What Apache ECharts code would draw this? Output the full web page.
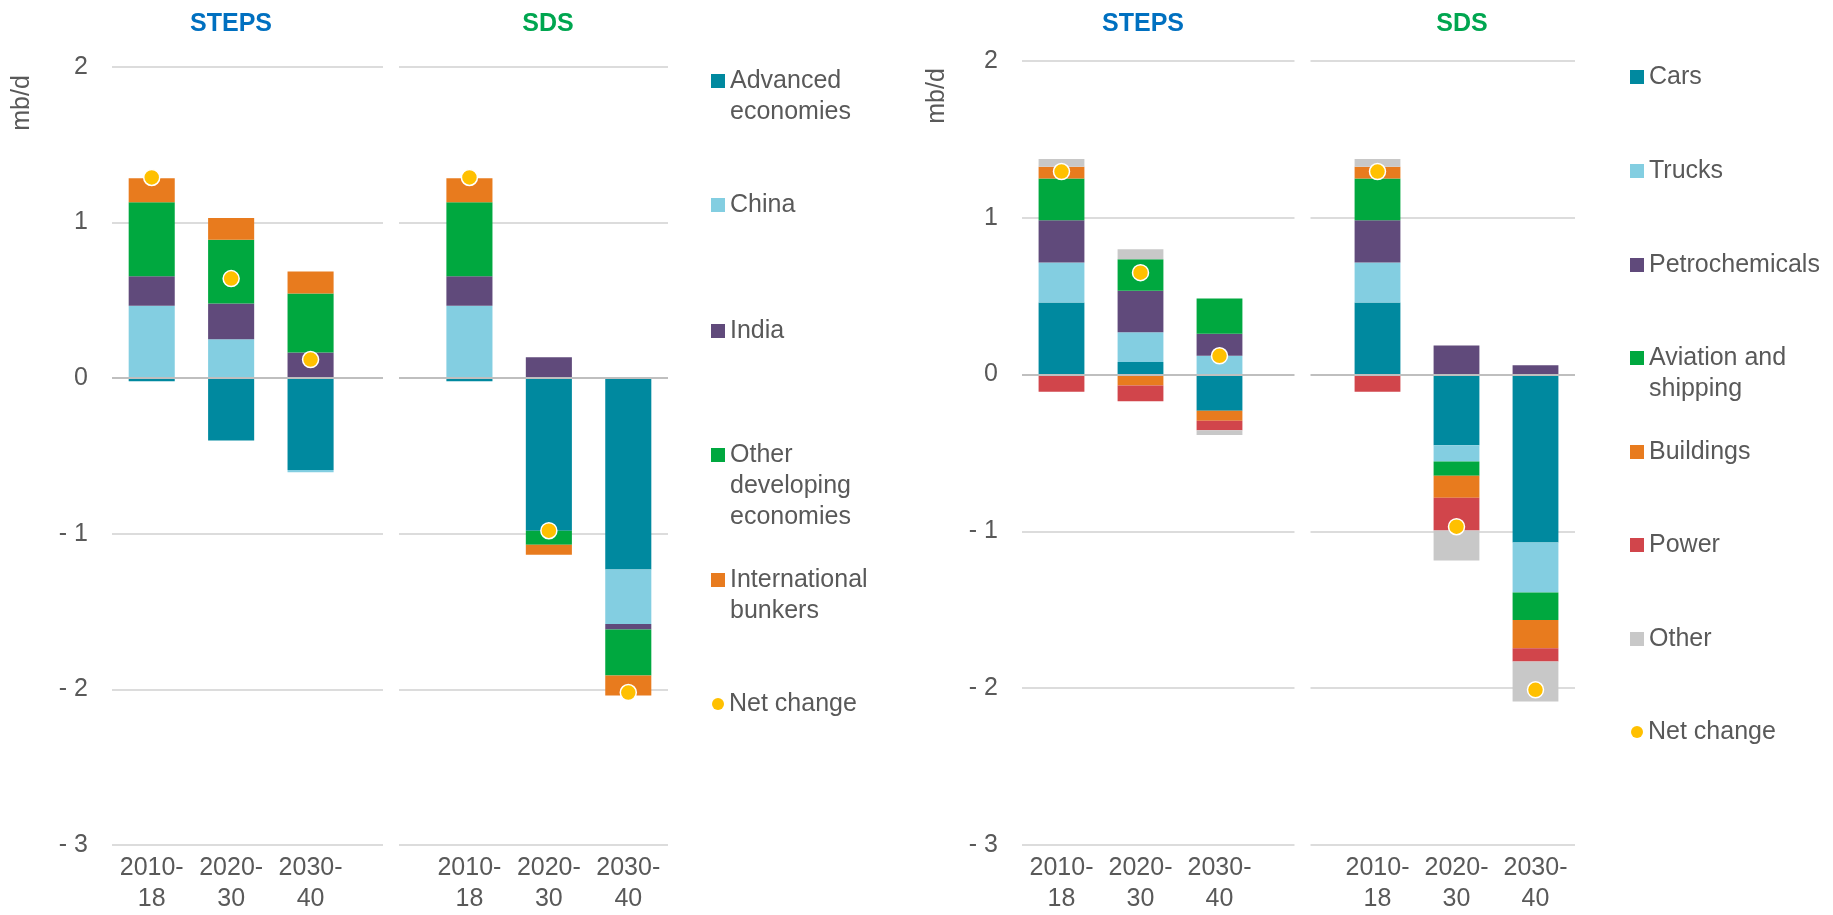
<!DOCTYPE html>
<html>
<head>
<meta charset="utf-8">
<title>Change in oil demand</title>
<script src="https://cdn.jsdelivr.net/npm/echarts@6/dist/echarts.min.js"></script>
<style>
  html, body { margin: 0; padding: 0; background: #fff; }
  #chart { width: 1833px; height: 915px; }
</style>
</head>
<body>
<div id="chart"></div>
<script>
// categories: STEPS periods, a blank slot, then SDS periods
const periods = ['2010-18', '2020-30', '2030-40', '', '2010-18', '2020-30', '2030-40']
const yTicks = { min: -3, max: 2, step: 1 }

// left panel: by region (mb/d)
const advanced = [-0.02, -0.40, -0.59, null, -0.02, -0.98, -1.23]
const china = [0.465, 0.25, -0.015, null, 0.465, 0, -0.35]
const india = [0.19, 0.23, 0.165, null, 0.19, 0.135, -0.035]
const otherDeveloping = [0.475, 0.41, 0.38, null, 0.475, -0.09, -0.295]
const bunkers = [0.155, 0.14, 0.14, null, 0.155, -0.065, -0.13]
const netRegion = [1.29, 0.64, 0.12, null, 1.29, -0.98, -2.02]

// right panel: by sector (mb/d)
const cars = [0.46, 0.08, -0.23, null, 0.46, -0.45, -1.07]
const trucks = [0.255, 0.19, 0.12, null, 0.255, -0.105, -0.32]
const petrochemicals = [0.27, 0.265, 0.14, null, 0.27, 0.185, 0.06]
const aviation = [0.265, 0.20, 0.225, null, 0.265, -0.09, -0.175]
const buildings = [0.075, -0.07, -0.065, null, 0.075, -0.14, -0.18]
const power = [-0.11, -0.10, -0.06, null, -0.11, -0.21, -0.085]
const otherSector = [0.05, 0.065, -0.03, null, 0.05, -0.19, -0.255]
const netSector = [1.295, 0.65, 0.12, null, 1.295, -0.97, -2.01]

const FONT = '"Liberation Sans", Arial, sans-serif'
const TEXT = '#595959'
const C = {
  teal: '#00899F',
  sky: '#83CEE1',
  purple: '#604A7B',
  green: '#00A83F',
  orange: '#E87B1E',
  red: '#D1454B',
  grey: '#C8C8C8',
  yellow: '#FFC000'
}

const grids = [
  { left: 112, top: 67, width: 556, height: 781 },
  { left: 1022, top: 61, width: 553, height: 789 }
]

function xAxis (idx) {
  return {
    type: 'category',
    gridIndex: idx,
    data: periods,
    axisLine: { show: false },
    axisTick: { show: false },
    axisLabel: {
      interval: 0,
      margin: 8,
      fontSize: 25,
      lineHeight: 31,
      fontFamily: FONT,
      color: TEXT,
      formatter: v => v.replace('-', '-\n')
    }
  }
}

function yAxis (idx) {
  return {
    type: 'value',
    gridIndex: idx,
    min: yTicks.min,
    max: yTicks.max,
    interval: yTicks.step,
    axisLine: { show: false },
    axisTick: { show: false },
    splitLine: { lineStyle: { color: '#DCDCDC', width: 2 } },
    axisLabel: {
      margin: 24,
      fontSize: 25,
      fontFamily: FONT,
      color: TEXT,
      formatter: v => (v < 0 ? '- ' + Math.abs(v) : String(v))
    }
  }
}

function bar (name, data, color, idx) {
  return {
    name,
    type: 'bar',
    stack: 'panel' + idx,
    xAxisIndex: idx,
    yAxisIndex: idx,
    data,
    barCategoryGap: '42%',
    itemStyle: { color },
    emphasis: { disabled: true }
  }
}

function net (data, idx) {
  return {
    name: 'Net change',
    type: 'scatter',
    xAxisIndex: idx,
    yAxisIndex: idx,
    data,
    z: 5,
    symbolSize: 16,
    itemStyle: { color: C.yellow, borderColor: '#fff', borderWidth: 1.5, opacity: 1 },
    emphasis: { disabled: true },
    markLine: {
      silent: true,
      symbol: 'none',
      label: { show: false },
      lineStyle: { color: '#BFBFBF', width: 2, type: 'solid' },
      data: [{ yAxis: 0 }]
    }
  }
}

// one legend per entry so each marker sits on the first line of its label:
// blank lines above the label push its first line onto the marker centre
const LH = 31
function legendItem (name, label, left, centerY, dot) {
  const lines = label.split('\n').length
  return {
    left,
    top: centerY - (2 * lines - 1) * LH / 2,
    orient: 'vertical',
    padding: 0,
    itemGap: 0,
    itemWidth: dot ? 12 : 14,
    itemHeight: dot ? 12 : 14,
    selectedMode: false,
    data: [{ name, icon: dot ? 'circle' : 'rect', itemStyle: { borderWidth: 0 } }],
    formatter: () => '\n'.repeat(lines - 1) + label,
    textStyle: {
      fontSize: 25,
      lineHeight: LH,
      fontFamily: FONT,
      color: TEXT
    }
  }
}

function panelTitle (text, x, color) {
  return {
    type: 'text',
    x,
    y: 24,
    style: { text, fill: color, font: 'bold 25px ' + FONT, align: 'center', verticalAlign: 'middle' }
  }
}

function unitName (x, y) {
  return {
    type: 'text',
    x,
    y,
    rotation: Math.PI / 2,
    style: { text: 'mb/d', fill: TEXT, font: '25px ' + FONT, align: 'center', verticalAlign: 'middle' }
  }
}

// white strip that breaks the gridlines between the STEPS and SDS halves
function gapStrip (x, top, bottom) {
  return {
    type: 'rect',
    z: 50,
    silent: true,
    shape: { x, y: top, width: 16, height: bottom - top },
    style: { fill: '#fff' }
  }
}

const option = {
  animation: false,
  backgroundColor: '#fff',
  grid: grids,
  xAxis: [xAxis(0), xAxis(1)],
  yAxis: [yAxis(0), yAxis(1)],
  legend: [
    legendItem('Advanced economies', 'Advanced\neconomies', 711, 81),
    legendItem('China', 'China', 711, 205),
    legendItem('India', 'India', 711, 331),
    legendItem('Other developing economies', 'Other\ndeveloping\neconomies', 711, 455),
    legendItem('International bunkers', 'International\nbunkers', 711, 580),
    legendItem('Net change', 'Net change', 712, 704, true),
    legendItem('Cars', 'Cars', 1630, 77),
    legendItem('Trucks', 'Trucks', 1630, 171),
    legendItem('Petrochemicals', 'Petrochemicals', 1630, 265),
    legendItem('Aviation and shipping', 'Aviation and\nshipping', 1630, 358),
    legendItem('Buildings', 'Buildings', 1630, 452),
    legendItem('Power', 'Power', 1630, 545),
    legendItem('Other', 'Other', 1630, 639),
    legendItem('Net change', 'Net change', 1631, 732, true)
  ],
  graphic: [
    panelTitle('STEPS', 231, '#0070C0'),
    panelTitle('SDS', 548, '#00A650'),
    panelTitle('STEPS', 1143, '#0070C0'),
    panelTitle('SDS', 1462, '#00A650'),
    unitName(22, 103),
    unitName(937, 96),
    gapStrip(383, 58, 856),
    gapStrip(1294.5, 52, 858)
  ],
  series: [
    bar('Advanced economies', advanced, C.teal, 0),
    bar('China', china, C.sky, 0),
    bar('India', india, C.purple, 0),
    bar('Other developing economies', otherDeveloping, C.green, 0),
    bar('International bunkers', bunkers, C.orange, 0),
    net(netRegion, 0),
    bar('Cars', cars, C.teal, 1),
    bar('Trucks', trucks, C.sky, 1),
    bar('Petrochemicals', petrochemicals, C.purple, 1),
    bar('Aviation and shipping', aviation, C.green, 1),
    bar('Buildings', buildings, C.orange, 1),
    bar('Power', power, C.red, 1),
    bar('Other', otherSector, C.grey, 1),
    net(netSector, 1)
  ]
}

const chart = echarts.init(document.getElementById('chart'))
chart.setOption(option)
window.addEventListener('resize', () => chart.resize())
</script>
</body>
</html>
